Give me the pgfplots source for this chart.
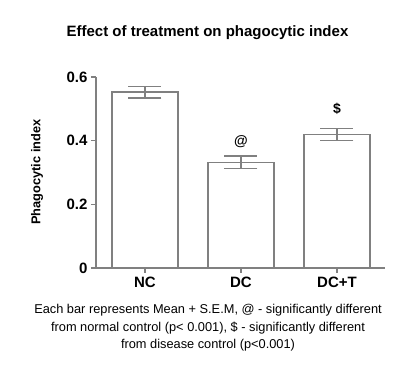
\documentclass[border=0pt]{standalone}
\usepackage{pgfplots}
\pgfplotsset{compat=1.18}
\usepackage{fontspec}
\setmainfont{Liberation Sans}
\definecolor{axgray}{RGB}{128,128,128}
\begin{document}
\begin{tikzpicture}[x=1pt,y=1pt]
\useasboundingbox (-96,-109) rectangle (320,268);
\begin{axis}[
  at={(0,0)}, anchor=south west,
  scale only axis, width=289pt, height=191pt,
  xmin=-0.51, xmax=2.5, ymin=0, ymax=0.6,
  axis lines=left,
  axis line style={-, axgray, line width=2.2pt},
  xtick={0,1,2}, xticklabels={NC,DC,DC+T},
  ytick={0,0.2,0.4,0.6},
  xtick pos=bottom, ytick pos=left,
  tick align=outside, major tick length=5pt,
  tick style={axgray, line width=1.6pt},
  /pgf/number format/assume math mode=true,
  yticklabel style={/pgf/number format/fixed, /pgf/number format/precision=1},
  ticklabel style={font=\fontsize{15}{17}\selectfont\bfseries, text=black},
  ybar, bar width=0.69,
  clip=false,
]
\addplot[fill=white, draw=axgray, line width=1.6pt,
  error bars/.cd, y dir=both, y explicit,
  error bar style={line width=1.6pt, axgray},
  error mark options={rotate=90, mark size=16.5pt, line width=1.6pt, axgray}]
  coordinates {(0,0.552) +- (0,0.018) (1,0.332) +- (0,0.020) (2,0.419) +- (0,0.019)};
\node[font=\fontsize{14}{16}\selectfont\bfseries] at (axis cs:1,0.396) {@};
\node[font=\fontsize{14}{16}\selectfont\bfseries] at (axis cs:2,0.4995) {\$};
\end{axis}
\node[font=\fontsize{15}{17}\selectfont\bfseries] at (111.5,235) {Effect of treatment on phagocytic index};
\node[font=\fontsize{12.8}{15}\selectfont\bfseries, rotate=90] at (-59,96) {Phagocytic index};
\node[font=\fontsize{12.8}{17.5}\selectfont, align=center] at (112,-60) {Each bar represents Mean + S.E.M, @ - significantly different\\from normal control (p< 0.001), \$ - significantly different\\from disease control (p<0.001)};
\end{tikzpicture}
\end{document}
